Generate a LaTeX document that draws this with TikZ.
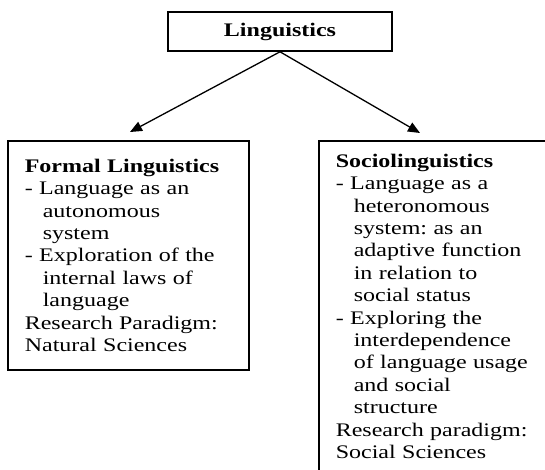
\documentclass[tikz,border=0pt]{standalone}
\usepackage{fontspec}
\setmainfont[FakeStretch=1.25]{Liberation Serif}
\usetikzlibrary{arrows.meta,positioning}

\newcommand{\hangin}{\hspace*{18pt}}

\begin{document}
\frenchspacing
\begin{tikzpicture}[x=1pt,y=1pt,
    every node/.style={font=\fontsize{19.2}{22.4}\selectfont},
    topbox/.style={draw,line width=1.6pt,minimum width=224pt,minimum height=39pt},
    box/.style={draw,line width=1.6pt,align=left,anchor=north west,inner xsep=17pt,text width=207pt},
    arr/.style={-{Triangle[length=12pt,width=10pt]},line width=1.3pt}]
  \useasboundingbox (0,0) rectangle (545,-470);
  \clip (0,0) rectangle (545,-470);
  % root
  \node[topbox] (ling) at (280,-31.5) {\textbf{Linguistics}};
  % the two branches
  \node[box,minimum height=229pt] (formal) at (7,-140) {%
    \textbf{Formal Linguistics}\\
    - Language as an\\
    \hangin autonomous\\
    \hangin system\\
    - Exploration of the\\
    \hangin internal laws of\\
    \hangin language\\
    Research Paradigm:\\
    Natural Sciences};
  \node[box,minimum height=331pt] (socio) at (318,-140) {%
    \textbf{Sociolinguistics}\\
    - Language as a\\
    \hangin heteronomous\\
    \hangin system: as an\\
    \hangin adaptive function\\
    \hangin in relation to\\
    \hangin social status\\
    - Exploring the\\
    \hangin interdependence\\
    \hangin of language usage\\
    \hangin and social\\
    \hangin structure\\
    Research paradigm:\\
    Social Sciences};
  \coordinate (ftip) at (130,-132);
  \coordinate (stip) at (420,-133);
  \draw[arr] (ling.south) -- (ftip);
  \draw[arr] (ling.south) -- (stip);
\end{tikzpicture}
\end{document}
